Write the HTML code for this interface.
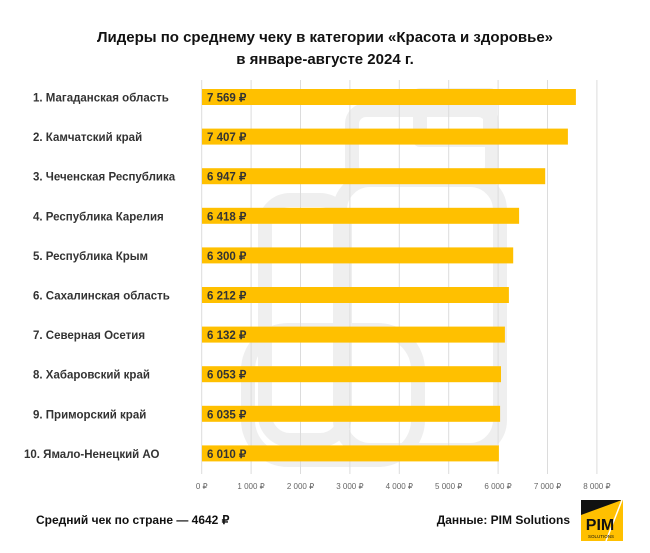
<!DOCTYPE html>
<html><head><meta charset="utf-8"><style>
body{margin:0;background:#fff;width:650px;height:548px;overflow:hidden;font-family:"Liberation Sans",sans-serif;}
</style></head><body>
<svg width="650" height="548" xmlns="http://www.w3.org/2000/svg" font-family="Liberation Sans, sans-serif">
<rect width="650" height="548" fill="#fff"/>
<g fill="none" stroke="#efefef" stroke-width="14" stroke-linejoin="round">
<rect x="352" y="110" width="140" height="70" rx="14"/>
<rect x="340" y="180" width="160" height="270" rx="30"/>
<rect x="265" y="200" width="80" height="240" rx="25"/>
<rect x="248" y="330" width="170" height="130" rx="40"/>
<rect x="420" y="95" width="70" height="45"/>
</g>
<g stroke="#dcdcdc" stroke-width="1">
<line x1="201.7" y1="80" x2="201.7" y2="474"/><line x1="251.1" y1="80" x2="251.1" y2="474"/>
<line x1="300.5" y1="80" x2="300.5" y2="474"/><line x1="349.9" y1="80" x2="349.9" y2="474"/>
<line x1="399.3" y1="80" x2="399.3" y2="474"/><line x1="448.7" y1="80" x2="448.7" y2="474"/>
<line x1="498.1" y1="80" x2="498.1" y2="474"/><line x1="547.5" y1="80" x2="547.5" y2="474"/>
<line x1="596.9" y1="80" x2="596.9" y2="474"/>
</g>
<text x="325" y="42" text-anchor="middle" font-size="15" font-weight="bold" fill="#111">Лидеры по среднему чеку в категории «Красота и здоровье»</text>
<text x="325" y="64" text-anchor="middle" font-size="15" font-weight="bold" fill="#111">в январе-августе 2024 г.</text>
<g fill="#ffc000">
<rect x="202" y="89" width="373.9" height="16"/>
<rect x="202" y="128.6" width="365.9" height="16"/>
<rect x="202" y="168.2" width="343.2" height="16"/>
<rect x="202" y="207.8" width="317.1" height="16"/>
<rect x="202" y="247.4" width="311.2" height="16"/>
<rect x="202" y="287" width="306.9" height="16"/>
<rect x="202" y="326.6" width="302.9" height="16"/>
<rect x="202" y="366.2" width="299" height="16"/>
<rect x="202" y="405.8" width="298.1" height="16"/>
<rect x="202" y="445.4" width="296.9" height="16"/>
</g>
<g font-size="11.5" font-weight="bold" fill="#333">
<text x="207" y="101.5">7 569 ₽</text><text x="207" y="141">7 407 ₽</text>
<text x="207" y="180.7">6 947 ₽</text><text x="207" y="220.3">6 418 ₽</text>
<text x="207" y="259.9">6 300 ₽</text><text x="207" y="299.5">6 212 ₽</text>
<text x="207" y="339.1">6 132 ₽</text><text x="207" y="378.7">6 053 ₽</text>
<text x="207" y="418.3">6 035 ₽</text><text x="207" y="457.9">6 010 ₽</text>
</g>
<g font-size="11.5" font-weight="bold" fill="#333">
<text x="33" y="101.5">1. Магаданская область</text>
<text x="33" y="141">2. Камчатский край</text>
<text x="33" y="180.7">3. Чеченская Республика</text>
<text x="33" y="220.3">4. Республика Карелия</text>
<text x="33" y="259.9">5. Республика Крым</text>
<text x="33" y="299.5">6. Сахалинская область</text>
<text x="33" y="339.1">7. Северная Осетия</text>
<text x="33" y="378.7">8. Хабаровский край</text>
<text x="33" y="418.3">9. Приморский край</text>
<text x="24" y="457.9">10. Ямало-Ненецкий АО</text>
</g>
<g font-size="8" fill="#666" text-anchor="middle">
<text x="201.7" y="489">0 ₽</text><text x="251.1" y="489">1 000 ₽</text><text x="300.5" y="489">2 000 ₽</text>
<text x="349.9" y="489">3 000 ₽</text><text x="399.3" y="489">4 000 ₽</text><text x="448.7" y="489">5 000 ₽</text>
<text x="498.1" y="489">6 000 ₽</text><text x="547.5" y="489">7 000 ₽</text><text x="596.9" y="489">8 000 ₽</text>
</g>
<text x="36" y="524" font-size="12" font-weight="bold" fill="#111">Средний чек по стране — 4642 ₽</text>
<text x="570" y="524" font-size="12" font-weight="bold" fill="#111" text-anchor="end">Данные: PIM Solutions</text>
<rect x="581" y="500" width="42" height="41" fill="#ffc000"/>
<polygon points="581,500 622,500 581,515" fill="#111"/>
<line x1="622" y1="500" x2="606" y2="541" stroke="#fff" stroke-width="1.5"/>
<text x="600" y="530" font-size="16" font-weight="bold" fill="#111" text-anchor="middle">PIM</text>
<text x="601" y="538" font-size="4.5" fill="#111" text-anchor="middle">SOLUTIONS</text>
</svg>
</body></html>
